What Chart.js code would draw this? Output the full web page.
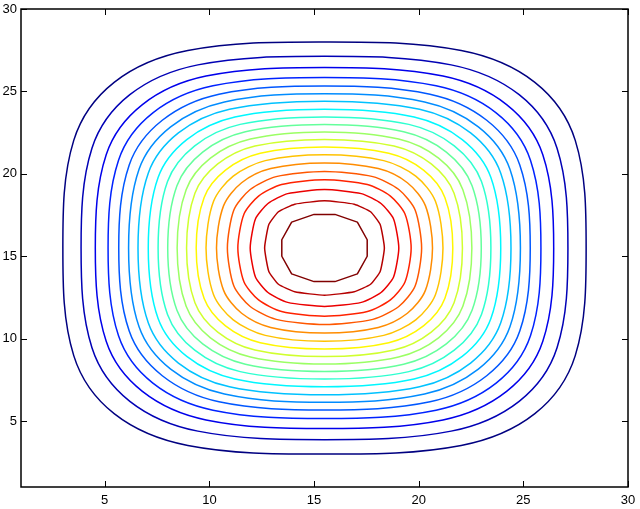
<!DOCTYPE html>
<html>
<head>
<meta charset="utf-8">
<script src="https://cdn.jsdelivr.net/npm/chart.js@4.4.0/dist/chart.umd.min.js"></script>
<style>
  html, body { margin: 0; padding: 0; background: #fff; }
</style>
</head>
<body>
<canvas id="contourChart" width="640" height="509"></canvas>
<script>
// contour levels, outermost (lowest) to innermost (highest)
const levelColors = [
    '#000080', '#0000b5', '#0000eb', '#0022ff', '#0057ff', '#008cff', '#00c2ff',
    '#00f7ff', '#2effd0', '#64ff9b', '#9bff64', '#d0ff2e', '#fff700', '#ffc200',
    '#ff8c00', '#ff5700', '#ff2200', '#eb0000', '#b50000', '#800000'
];
// distance from the centre where each contour crosses the x / y axis line
const axisOffset = [
    12.50, 11.63, 10.95, 10.34, 9.83, 9.36, 8.91, 8.42, 7.95, 7.49,
    7.04, 6.59, 6.13, 5.66, 5.16, 4.64, 4.14, 3.55, 2.86, 2.04
];
// offset (same in x and y) where each contour crosses the diagonal
const diagOffset = [
    10.05, 9.30, 8.70, 8.20, 7.75, 7.35, 6.98, 6.58, 6.20, 5.82,
    5.45, 5.10, 4.73, 4.36, 3.96, 3.55, 3.15, 2.70, 2.20, 1.57
];
// a point on the shoulder of each contour: row offset and side offset
const shoulderRow = [
    6.53, 6.05, 5.66, 5.33, 5.04, 4.78, 4.54, 4.28, 4.03, 3.78,
    3.54, 3.32, 3.07, 2.83, 2.57, 2.31, 2.05, 1.76, 1.42, 0.50
];
const shoulderOffset = [
    11.98, 11.11, 10.43, 9.84, 9.33, 8.86, 8.42, 7.95, 7.50, 7.05,
    6.61, 6.19, 5.75, 5.30, 4.82, 4.33, 3.85, 3.30, 2.66, 2.04
];
// inner levels show the straight grid segments of the contour polylines
const levelTension = [
    0.35, 0.35, 0.35, 0.35, 0.35, 0.35, 0.35, 0.35, 0.35, 0.35,
    0.35, 0.35, 0.35, 0.3, 0.3, 0.25, 0.25, 0.2, 0.15, 0
];
const centreX = 15.5;
const centreY = 15.5;
const xTicks = [5, 10, 15, 20, 25, 30];
const yTicks = [5, 10, 15, 20, 25, 30];

// one closed loop per level; the two ends overlap so the spline closes smoothly
function loopPoints(i) {
    const r = axisOffset[i], s = diagOffset[i];
    const m = shoulderOffset[i], h = shoulderRow[i];
    const q = [
        [r, 0], [m, h], [s, s], [h, m], [0, r], [-h, m], [-s, s], [-m, h],
        [-r, 0], [-m, -h], [-s, -s], [-h, -m], [0, -r], [h, -m], [s, -s], [m, -h]
    ].map(p => ({ x: centreX + p[0], y: centreY + p[1] }));
    return [q[q.length - 1], ...q, q[0], q[1]];
}

const datasets = axisOffset.map((r, i) => {
    const pts = loopPoints(i);
    const last = pts.length - 2;
    return {
        data: pts,
        showLine: true,
        borderColor: levelColors[i],
        borderWidth: 1.5,
        borderJoinStyle: 'round',
        pointRadius: 0,
        tension: levelTension[i],
        segment: {
            borderColor: ctx => (ctx.p0DataIndex === 0 || ctx.p0DataIndex === last) ? 'rgba(0,0,0,0)' : undefined
        }
    };
});

// MATLAB style box with inward ticks on all four sides
const boxPlugin = {
    id: 'box',
    afterDraw(chart) {
        const { ctx, chartArea: a, scales } = chart;
        ctx.save();
        ctx.strokeStyle = '#000';
        ctx.lineWidth = 1.5;
        ctx.strokeRect(a.left, a.top, a.right - a.left, a.bottom - a.top);
        ctx.lineWidth = 1;
        ctx.beginPath();
        xTicks.forEach(v => {
            const x = Math.round(scales.x.getPixelForValue(v)) + 0.5;
            ctx.moveTo(x, a.bottom); ctx.lineTo(x, a.bottom - 6);
            ctx.moveTo(x, a.top); ctx.lineTo(x, a.top + 6);
        });
        yTicks.forEach(v => {
            const y = Math.round(scales.y.getPixelForValue(v)) + 0.5;
            ctx.moveTo(a.left, y); ctx.lineTo(a.left + 6, y);
            ctx.moveTo(a.right, y); ctx.lineTo(a.right - 6, y);
        });
        ctx.stroke();
        ctx.restore();
    }
};

const tickFont = { family: 'Liberation Sans', size: 13 };

new Chart(document.getElementById('contourChart'), {
    type: 'scatter',
    data: { datasets: datasets },
    options: {
        responsive: false,
        animation: false,
        devicePixelRatio: 1,
        layout: { padding: { left: 2, right: 12, top: 9, bottom: 2 } },
        plugins: { legend: { display: false }, tooltip: { enabled: false } },
        scales: {
            x: {
                type: 'linear', min: 1, max: 30,
                afterBuildTicks: axis => { axis.ticks = xTicks.map(v => ({ value: v })); },
                afterFit: axis => { axis.height = 20; axis.paddingLeft = 0; axis.paddingRight = 0; },
                grid: { display: false, drawTicks: false },
                border: { display: false },
                ticks: { font: tickFont, color: '#000', padding: 6, maxRotation: 0 }
            },
            y: {
                type: 'linear', min: 1, max: 30,
                afterBuildTicks: axis => { axis.ticks = yTicks.map(v => ({ value: v })); },
                afterFit: axis => { axis.width = 19; axis.paddingTop = 0; axis.paddingBottom = 0; },
                grid: { display: false, drawTicks: false },
                border: { display: false },
                ticks: { font: tickFont, color: '#000', padding: 4 }
            }
        }
    },
    plugins: [boxPlugin]
});
</script>
</body>
</html>
